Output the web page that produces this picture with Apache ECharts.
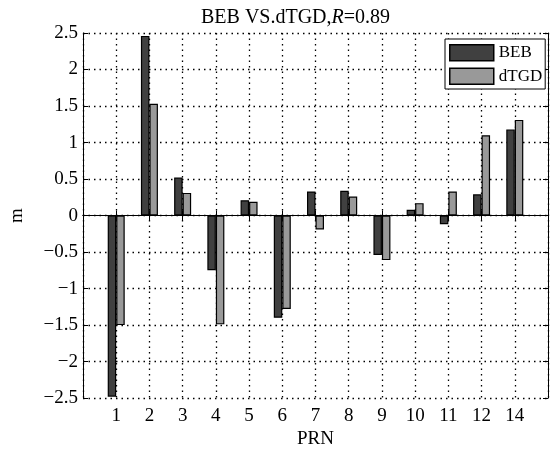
<!DOCTYPE html>
<html>
<head>
<meta charset="utf-8">
<script src="https://cdn.jsdelivr.net/npm/echarts@6/dist/echarts.min.js"></script>
<style>
html,body{margin:0;padding:0;background:#fff;}
#chart{width:551px;height:454px;}
</style>
</head>
<body>
<div id="chart"></div>
<script>
const prn = ['1','2','3','4','5','6','7','8','9','10','11','12','14'];
const beb = [-2.48, 2.46, 0.52, -0.75, 0.21, -1.40, 0.33, 0.34, -0.54, 0.08, -0.12, 0.29, 1.18];
const dtgd = [-1.50, 1.53, 0.31, -1.49, 0.19, -1.28, -0.19, 0.26, -0.61, 0.17, 0.33, 1.10, 1.31];
const yTicks = [-2.5, -2, -1.5, -1, -0.5, 0, 0.5, 1, 1.5, 2, 2.5];

const cats = [''].concat(prn, ['']);
const pad = a => [null].concat(a, [null]);
const FONT = '"Liberation Serif", "Times New Roman", serif';

const chart = echarts.init(document.getElementById('chart'), null, {renderer: 'canvas'});
const axisCommon = {
  type: 'category',
  data: cats,
  boundaryGap: false,
  axisLine: {lineStyle: {color: '#000', width: 1}},
  axisTick: {inside: true, length: 5, lineStyle: {color: '#000'}, interval: 0},
};
chart.setOption({
  animation: false,
  backgroundColor: '#fff',
  title: {
    text: '{a|BEB VS.dTGD,}{b|R}{a|=0.89}',
    left: 196, top: 3,
    textStyle: {
      fontWeight: 'normal',
      rich: {
        a: {fontFamily: FONT, fontSize: 20, fontWeight: 'normal', color: '#000'},
        b: {fontFamily: FONT, fontSize: 20, fontWeight: 'normal', fontStyle: 'italic', color: '#000'}
      }
    }
  },
  legend: {
    orient: 'vertical',
    left: 445, top: 39,
    padding: [5, 3, 4, 4],
    itemWidth: 44, itemHeight: 16, itemGap: 6,
    backgroundColor: '#fff',
    borderColor: '#000', borderWidth: 1,
    icon: 'rect',
    textStyle: {fontFamily: FONT, fontSize: 17, color: '#000'},
    itemStyle: {borderColor: '#000', borderWidth: 1.5},
    data: ['BEB', 'dTGD']
  },
  grid: {left: 80, top: 33, width: 472, height: 370, containLabel: false},
  xAxis: [
    Object.assign({}, axisCommon, {
      position: 'bottom',
      name: 'PRN', nameLocation: 'middle', nameGap: 30,
      nameTextStyle: {fontFamily: FONT, fontSize: 19, color: '#000'},
      axisLabel: {interval: 0, margin: 8, fontFamily: FONT, fontSize: 19, color: '#000'},
      splitLine: {show: true, interval: 0, lineStyle: {color: '#000', type: [1.5, 4], width: 1.3}}
    }),
    Object.assign({}, axisCommon, {
      position: 'top',
      axisLabel: {show: false},
      splitLine: {show: false}
    })
  ],
  yAxis: [
    {
      type: 'value', min: -2.5, max: 2.5, interval: 0.5,
      position: 'left',
      name: 'm', nameLocation: 'middle', nameGap: 56, nameRotate: 90,
      nameTextStyle: {fontFamily: FONT, fontSize: 19, color: '#000'},
      axisLine: {show: true, lineStyle: {color: '#000'}},
      axisTick: {show: true, inside: true, length: 5, lineStyle: {color: '#000'}},
      axisLabel: {
        margin: 5, fontFamily: FONT, fontSize: 19, color: '#000',
        formatter: v => {
          const t = yTicks.find(x => Math.abs(x - v) < 1e-9);
          return String(t === undefined ? v : t).replace('-', '\u2212');
        }
      },
      splitLine: {show: true, lineStyle: {color: '#000', type: [1.5, 4], width: 1.3}}
    },
    {
      type: 'value', min: -2.5, max: 2.5, interval: 0.5,
      position: 'right',
      axisLine: {show: true, lineStyle: {color: '#000'}},
      axisTick: {show: true, inside: true, length: 5, lineStyle: {color: '#000'}},
      axisLabel: {show: false},
      splitLine: {show: false}
    }
  ],
  series: [
    {
      name: 'BEB', type: 'bar', data: pad(beb),
      barWidth: 8.5, barGap: '0%',
      itemStyle: {color: '#404040', borderColor: '#000', borderWidth: 1.2},
      markLine: {
        silent: true, symbol: 'none', label: {show: false},
        lineStyle: {color: '#000', type: 'solid', width: 1.2},
        data: [{yAxis: 0}]
      },
      z: 3
    },
    {
      name: 'dTGD', type: 'bar', data: pad(dtgd),
      barWidth: 8.5,
      itemStyle: {color: '#999999', borderColor: '#000', borderWidth: 1.2},
      z: 3
    }
  ]
});
</script>
</body>
</html>
